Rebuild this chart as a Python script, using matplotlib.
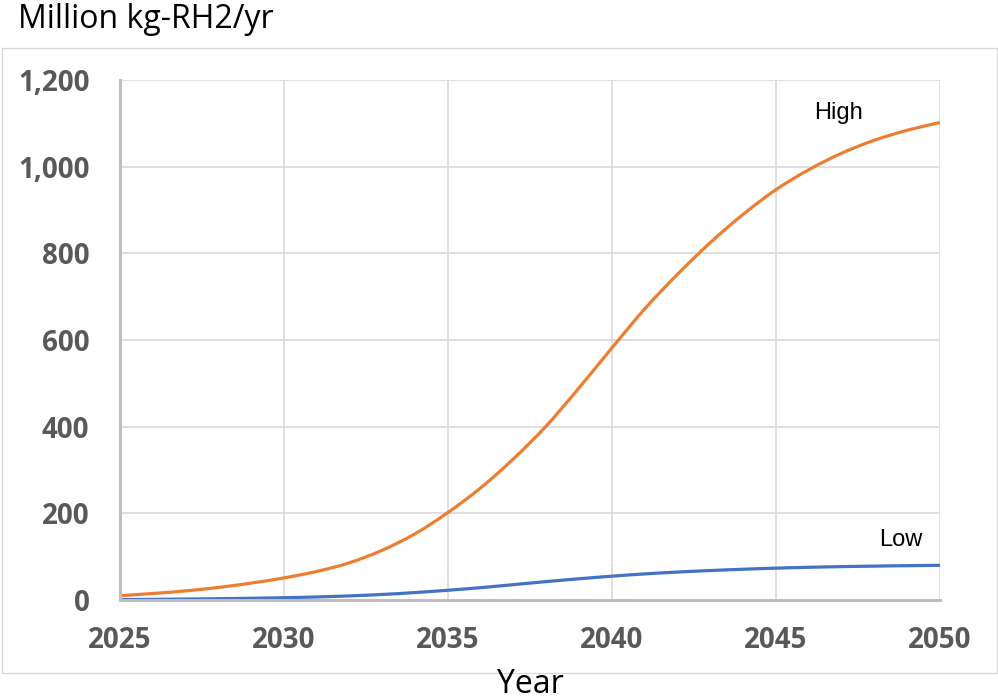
import matplotlib.pyplot as plt
from matplotlib.patches import Rectangle, PathPatch
from matplotlib.path import Path
from matplotlib.ticker import FuncFormatter

years = list(range(2025, 2051))
high = [10, 15, 21, 29, 39, 51, 66, 86, 115, 153, 202, 259, 326, 402, 490,
        582, 672, 752, 825, 890, 947, 993, 1031, 1061, 1084, 1102]
low = [1, 1.5, 2.2, 3, 4, 5.3, 7, 9.5, 12.8, 17.2, 22.5, 28.5, 35.5, 42.5, 49,
       55, 60.2, 64.5, 68, 71, 73.5, 75.5, 77, 78.2, 79.2, 80]


def smooth_path(xs, ys):
    # Excel-style smoothed line: cubic bezier through each point
    pts = list(zip(xs, ys))
    verts = [pts[0]]
    codes = [Path.MOVETO]
    n = len(pts)
    for i in range(n - 1):
        p0 = pts[max(i - 1, 0)]
        p1 = pts[i]
        p2 = pts[i + 1]
        p3 = pts[min(i + 2, n - 1)]
        c1 = (p1[0] + (p2[0] - p0[0]) / 6, p1[1] + (p2[1] - p0[1]) / 6)
        c2 = (p2[0] - (p3[0] - p1[0]) / 6, p2[1] - (p3[1] - p1[1]) / 6)
        verts += [c1, c2, p2]
        codes += [Path.CURVE4] * 3
    return Path(verts, codes)


fig = plt.figure(figsize=(9.98, 7), dpi=100)
ax = fig.add_axes([120/998, 1 - 600/700, 820/998, 520/700])

# outer chart frame
fig.patches.append(Rectangle((2/998, 1 - 673/700), 995/998, 625/700,
                             transform=fig.transFigure, fill=False,
                             edgecolor='#d9d9d9', linewidth=1))

ax.add_patch(PathPatch(smooth_path(years, high), fill=False,
                       edgecolor='#ed7d31', linewidth=2.3))
ax.add_patch(PathPatch(smooth_path(years, low), fill=False,
                       edgecolor='#4472c4', linewidth=2.3))

ax.set_xlim(2025, 2050)
ax.set_ylim(0, 1200)
ax.set_xticks(range(2025, 2051, 5))
ax.set_yticks(range(0, 1201, 200))
ax.yaxis.set_major_formatter(FuncFormatter(lambda v, p: f'{int(v):,}'))

ax.grid(True, color='#d9d9d9', linewidth=1.2)
ax.set_axisbelow(True)
for s in ['top', 'right']:
    ax.spines[s].set_visible(False)
for s in ['left', 'bottom']:
    ax.spines[s].set_color('#bfbfbf')
    ax.spines[s].set_linewidth(2.2)

ax.tick_params(length=0, labelcolor='#595959')
ax.tick_params(axis='y', pad=22)
ax.tick_params(axis='x', pad=19)
for lab in ax.get_xticklabels() + ax.get_yticklabels():
    lab.set_fontfamily('Open Sans')
    lab.set_fontweight('bold')
    lab.set_fontsize(20)

ax.text(2046.9, 1125, 'High', fontsize=17, family='Liberation Sans',
        ha='center', va='center')
ax.text(2048.8, 138, 'Low', fontsize=17, family='Liberation Sans',
        ha='center', va='center')

fig.text(18/998, 1 - 20/700, 'Million kg-RH2/yr', fontsize=23,
         family='Open Sans', ha='left', va='center')
fig.text(497/998, 1 - 668/700, 'Year', fontsize=23, family='Open Sans',
         ha='left', va='top')

fig.savefig('out.png', dpi=100)
